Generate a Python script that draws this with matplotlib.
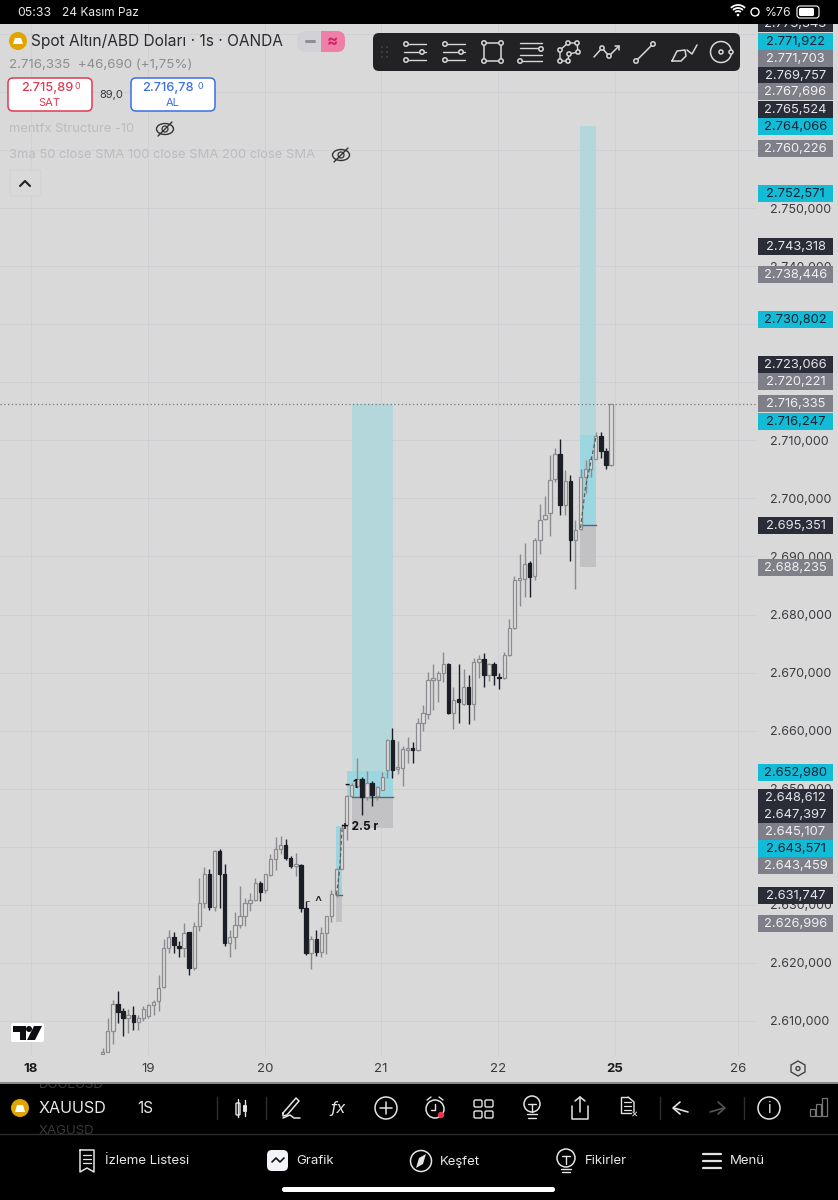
import matplotlib
matplotlib.use("Agg")
import matplotlib.pyplot as plt
from matplotlib.patches import Rectangle, FancyBboxPatch, Circle, Polygon, Ellipse, Arc
from matplotlib.transforms import Bbox

plt.rcParams['font.family'] = ['Inter', 'DejaVu Sans']

# ---------- data ----------
opens = [2604.4,2604.6,2608.3,2613.0,2611.7,2610.6,2611.1,2609.9,2610.5,2610.8,
         2612.8,2613.4,2615.8,2622.5,2624.5,2623.0,2622.6,2625.3,2619.1,2626.4,
         2630.3,2635.3,2629.7,2639.3,2635.3,2623.5,2624.5,2626.5,2628.1,2630.3,
         2630.8,2633.8,2632.5,2635.1,2637.9,2639.6,2640.3,2638.0,2636.7,2636.9,
         2629.5,2621.7,2624.2,2621.9,2625.2,2628.1,2631.8,2636.2,2643.8,2648.8,
         2650.4,2651.7,2648.5,2650.9,2648.7,2649.8,2653.3,2658.4,2653.4,2653.6,
         2656.7,2657.0,2656.7,2661.3,2662.9,2668.7,2668.8,2669.9,2671.5,2663.1,
         2665.4,2664.6,2667.6,2664.6,2671.8,2672.3,2669.5,2671.4,2669.2,2669.1,
         2673.0,2677.7,2686.0,2686.2,2688.9,2686.6,2692.9,2696.4,2697.4,2703.3,
         2707.7,2698.8,2703.0,2692.9,2694.7,2703.7,2705.1,2706.8,2710.8,2708.1,
         2705.7]
closes = [2604.7,2608.3,2613.0,2611.6,2610.5,2611.1,2609.9,2610.5,2612.1,2612.8,
          2613.3,2615.7,2622.5,2624.5,2623.1,2622.6,2625.2,2619.2,2626.4,2630.3,
          2635.3,2629.7,2639.3,2635.3,2623.5,2624.5,2626.5,2628.1,2630.3,2630.8,
          2633.8,2632.3,2635.3,2637.9,2639.6,2640.3,2638.0,2636.7,2637.0,2629.5,
          2621.7,2624.2,2621.9,2625.2,2628.1,2631.8,2636.2,2643.2,2648.7,2650.6,
          2651.7,2648.5,2650.9,2648.9,2650.3,2652.1,2658.4,2653.3,2653.6,2656.8,
          2656.9,2656.7,2661.3,2663.0,2668.8,2668.9,2669.9,2671.4,2663.1,2665.3,
          2664.9,2667.6,2664.6,2671.8,2672.3,2669.5,2671.4,2669.5,2669.0,2673.1,
          2677.7,2686.0,2686.2,2688.7,2686.5,2692.9,2696.3,2697.1,2703.2,2707.7,
          2698.8,2703.0,2692.9,2694.5,2703.6,2705.0,2706.7,2710.7,2708.1,2705.7,
          2716.2]
highs = [2605.3,2610.5,2613.6,2615.2,2612.2,2612.1,2612.6,2611.0,2612.5,2613.0,
         2613.6,2617.9,2624.2,2625.7,2625.4,2623.7,2626.8,2625.4,2627.1,2634.6,
         2636.6,2636.2,2639.4,2639.6,2637.0,2625.7,2628.7,2633.2,2631.1,2632.0,
         2634.7,2634.1,2635.4,2638.7,2641.6,2641.9,2641.3,2638.5,2638.9,2637.0,
         2630.7,2624.7,2625.7,2626.2,2628.1,2632.6,2636.3,2643.9,2649.0,2650.9,
         2655.3,2652.1,2653.0,2651.3,2650.4,2652.8,2658.6,2660.5,2658.2,2657.3,
         2658.9,2658.0,2662.2,2664.5,2670.1,2671.5,2670.2,2673.5,2671.6,2667.6,
         2671.5,2670.6,2669.6,2672.5,2673.1,2673.4,2671.6,2671.8,2669.9,2673.6,
         2679.3,2686.6,2690.5,2692.4,2689.2,2693.2,2699.0,2700.4,2707.4,2708.6,
         2710.2,2704.9,2704.1,2696.3,2705.1,2706.6,2707.3,2711.4,2711.4,2708.7,
         2716.3]
lows = [2604.4,2604.6,2606.0,2609.6,2607.5,2607.9,2608.4,2608.4,2610.0,2610.5,
        2611.1,2611.7,2615.7,2621.7,2621.7,2621.1,2621.1,2617.9,2618.8,2625.5,
        2629.5,2629.1,2628.9,2629.4,2623.0,2621.1,2622.4,2626.0,2626.4,2628.9,
        2630.7,2630.7,2632.0,2634.9,2636.0,2638.7,2637.7,2636.3,2635.0,2628.8,
        2621.4,2618.9,2621.2,2621.1,2621.5,2627.1,2631.4,2636.2,2641.2,2648.7,
        2650.1,2645.4,2648.1,2647.1,2648.1,2649.7,2651.8,2651.8,2652.6,2650.4,
        2654.4,2654.5,2656.5,2660.0,2662.0,2663.5,2665.0,2668.3,2662.9,2660.3,
        2661.3,2664.5,2661.2,2661.8,2669.1,2667.6,2668.5,2667.9,2667.2,2668.9,
        2672.8,2677.5,2681.5,2683.1,2683.1,2686.0,2690.5,2696.3,2693.5,2702.8,
        2697.1,2697.1,2689.3,2684.4,2694.5,2701.0,2703.7,2706.7,2707.0,2705.1,
        2705.6]

price_ticks = [2610, 2620, 2630, 2640, 2650, 2660, 2670, 2680, 2690, 2700,
               2710, 2720, 2730, 2740, 2750, 2760, 2770, 2780]
hidden_price_labels = [2640, 2720, 2730, 2760, 2770, 2780]
day_labels = ['18', '19', '20', '21', '22', '25', '26']
day_bold = ['18', '25']

tag_labels = ['2.773,343', '2.771,922', '2.771,703', '2.769,757', '2.767,696', '2.765,524',
              '2.764,066', '2.760,226', '2.752,571', '2.743,318', '2.738,446', '2.730,802',
              '2.723,066', '2.720,221', '2.716,335', '2.716,247', '2.695,351', '2.688,235',
              '2.652,980', '2.648,612', '2.647,397', '2.645,107', '2.643,571', '2.643,459',
              '2.631,747', '2.626,996']
tag_kinds = ['d', 't', 'g', 'd', 'g', 'd', 't', 'g', 't', 'd', 'g', 't', 'd', 'g', 'g', 't',
             'd', 'g', 't', 'd', 'd', 'g', 't', 'g', 'd', 'g']

# position boxes: (bar start, bar end, target, entry, stop)
box_starts = [45.9, 48.95, 93.9]
box_ends = [47.1, 57.1, 97.1]
box_targets = [2643.57, 2716.3, 2764.07]
box_entries = [2631.75, 2648.61, 2695.35]
box_stops = [2627.0, 2643.2, 2688.24]
box_fills = [2643.57, 2652.98, 2710.9]

# ---------- layout (pixel geometry of the page) ----------
W, H = 838, 1200
BG = '#d9d9d9'
fig = plt.figure(figsize=(W / 100, H / 100), dpi=100, facecolor=BG)
PANE_R, PANE_T, PANE_B = 757, 24, 1055
PX0, PXS = 102.7, 5.083
PP = 5.807
ax = fig.add_axes([0, 1 - PANE_B / H, PANE_R / W, (PANE_B - PANE_T) / H], facecolor=BG)
ax.set_xlim(-PX0 / PXS, (PANE_R - PX0) / PXS)
ax.set_ylim(2610 - (PANE_B - 1021) / PP, 2610 + (1021 - PANE_T) / PP)
for s in ax.spines.values():
    s.set_visible(False)

# grid + axes
day_x = [(p - PX0) / PXS for p in (31, 148, 265, 381, 498, 615, 738)]
ax.set_xticks(day_x)
ax.set_xticklabels(day_labels, fontsize=9.5, color='#3a3a40')
for lab in ax.get_xticklabels():
    if lab.get_text() in day_bold:
        lab.set_fontweight('bold')
        lab.set_color('#1c1c20')
ax.tick_params(axis='x', length=0, pad=6)
ax.yaxis.tick_right()
ax.set_yticks(price_ticks)
ax.set_yticklabels(['' if p in hidden_price_labels else f"2.{p - 2000:03d},000" for p in price_ticks],
                   fontsize=9, color='#3c3c42')
ax.tick_params(axis='y', length=0, pad=9)
ax.grid(True, color='#cfd0d4', lw=0.7, zorder=0)
ax.set_axisbelow(True)

# position boxes
for a, b, tgt, ent, stp, fil in zip(box_starts, box_ends, box_targets, box_entries, box_stops, box_fills):
    ax.add_patch(Rectangle((a, ent), b - a, tgt - ent, fc='#b4d7dc', ec='none', zorder=1))
    ax.add_patch(Rectangle((a, ent), b - a, fil - ent, fc='#9cd6e0', ec='none', zorder=1.1))
    ax.add_patch(Rectangle((a, stp), b - a, ent - stp, fc='#c2c2c5', ec='none', zorder=1))
    ax.plot([a, b], [ent, ent], color='#5b6468', lw=1, zorder=1.2)
ax.add_patch(Rectangle((48.1, 2648.61), 57.1 - 48.1, 2652.98 - 2648.61, fc='#9cd6e0', ec='none', zorder=1.05))

# last price line
ax.axhline(closes[-1] + 0.1, color='#77777c', lw=0.9, ls=(0, (1, 2)), zorder=1.5)

# candles
for i, (o, c, h, l) in enumerate(zip(opens, closes, highs, lows)):
    up = c >= o
    col = '#8c8c90' if up else '#1c1e26'
    ax.plot([i, i], [l, h], color=col, lw=1.0, zorder=3, solid_capstyle='butt')
    ax.add_patch(Rectangle((i - 0.33, min(o, c)), 0.66, max(abs(c - o), 0.3),
                           fc='#dedede' if up else col, ec=col, lw=0.9, zorder=3.2))

# dashed trade paths
ax.plot([94, 95, 97], [2694.9, 2702, 2710.4], color='#446666', lw=0.9, ls=(0, (3, 2)), zorder=3.5)
ax.plot([46, 46.6, 47.1], [2631.8, 2636, 2643], color='#446666', lw=0.9, ls=(0, (3, 2)), zorder=3.5)

# ---------- page overlay in pixel coordinates ----------
ui = fig.add_axes([0, 0, 1, 1], facecolor='none')
ui.set_xlim(0, W)
ui.set_ylim(H, 0)
ui.axis('off')
def T(x, y, s, size=9, color='k', ha='left', va='center', **kw):
    return ui.text(x, y + 1.5, s, fontsize=size, color=color, ha=ha, va=va, **kw)
def L(xs, ys, color='w', lw=1.1, **kw):
    ui.plot(xs, ys, color=color, lw=lw, solid_capstyle='round', **kw)
def RB(x, y, w, h, fc, ec='none', r=3, lw=1, z=2):
    ui.add_patch(FancyBboxPatch((x + r, y + r), w - 2 * r, h - 2 * r,
                                boxstyle=f"round,pad={r}", fc=fc, ec=ec, lw=lw, zorder=z))
def C(x, y, r, ec='w', fc='none', lw=1.1, z=3):
    ui.add_patch(Circle((x, y), r, fc=fc, ec=ec, lw=lw, zorder=z))

# chart annotations
T(341, 825, '+ 2.5 r', 8.5, '#111111', fontweight='bold')
T(345, 784, '- 1', 8.5, '#111111', fontweight='bold')
T(318, 901, '^', 11, '#222222', ha='center')
T(305, 901, '-', 7, '#444444')

# price tags
TAG_Y = [23, 41, 58, 75, 91, 109, 126, 148, 193, 246, 274, 319, 364, 381, 403, 421,
         525, 567, 772, 797, 814, 831, 848, 865, 895, 923]
sty = {'d': ('#2a2d38', '#e6e6ea'), 't': ('#13bcd6', '#112233'), 'g': ('#7e7f88', '#f0f0f2')}
for y, s, k in zip(TAG_Y, tag_labels, tag_kinds):
    fc, tc = sty[k]
    ui.add_patch(Rectangle((758, y - 8.5), 75, 17, fc=fc, ec='none', zorder=2))
    T(795.5, y - 0.5, s, 9.3, tc, ha='center', zorder=2.1)

# top bar
ui.add_patch(Rectangle((0, 0), W, 24, fc='k', ec='none', zorder=4))
T(17, 11, '05:33', 8.8, '#e8e8e8', zorder=5)
T(62, 11, '24 Kasım Paz', 8.6, '#e8e8e8', zorder=5)
T(765, 11, '%76', 8.8, '#e8e8e8', zorder=5)
ui.add_patch(Circle((738, 15), 1.3, fc='w', ec='none', zorder=5))
for r in (4, 7, 10):
    ui.add_patch(Arc((738, 15), 2 * r, 2 * r, angle=0, theta1=225, theta2=315, color='w', lw=1.3, zorder=5))
C(755, 12, 4, lw=1, z=5)
RB(797, 6, 22, 12, 'k', 'w', r=3, lw=0.8, z=5)
RB(799, 8, 15, 8, 'w', r=1.5, z=6)

# legend block
C(18, 41, 9, ec='none', fc='#e2a400')
ui.add_patch(Polygon([[13, 44], [23, 44], [21, 38], [15, 38]], fc='w', ec='none', zorder=4))
T(31, 40, 'Spot Altın/ABD Doları · 1s · OANDA', 11.15, '#2a2a30')
RB(297, 31, 48, 21, '#d2d2d6', r=9)
ui.add_patch(Rectangle((321, 31), 17, 21, fc='#ee80a8', ec='none', zorder=2.2))
RB(330, 31, 15, 21, '#ee80a8', r=8, z=2.1)
L([306, 314], [41, 41], '#8e8e96', 2.2, zorder=3)
T(332, 40, '≈', 12, '#d81e63', ha='center', zorder=3, fontweight='bold')
T(9, 63, '2.716,335  +46,690 (+1,75%)', 9.6, '#8d8d93')
RB(8, 78, 84, 33, 'white', '#e23a52', r=5, lw=1.1)
T(47, 87, '2.715,89', 9.2, '#e23a52', ha='center', zorder=3, fontweight='medium')
T(77, 85, '0', 6.5, '#e23a52', ha='center', zorder=3)
T(49, 102, 'SAT', 8, '#e23a52', ha='center', zorder=3)
T(111, 94, '89,0', 8, '#3a3a40', ha='center')
RB(131, 78, 84, 33, 'white', '#3b6fe6', r=5, lw=1.1)
T(168, 87, '2.716,78', 9.2, '#3b6fe6', ha='center', zorder=3, fontweight='medium')
T(200, 85, '0', 6.5, '#3b6fe6', ha='center', zorder=3)
T(173, 102, 'AL', 8, '#3b6fe6', ha='center', zorder=3)
T(9, 128, 'mentfx Structure -10', 9.3, '#bcbcc1')
T(9, 154, '3ma 50 close SMA 100 close SMA 200 close SMA', 9.4, '#bcbcc1')
for ex, ey in ((165, 129), (341, 155)):
    ui.add_patch(Ellipse((ex, ey), 17, 11, fc='none', ec='#333333', lw=1))
    C(ex, ey, 3, ec='#333333', lw=0.9)
    L([ex - 7, ex + 7], [ey + 7, ey - 7], '#333333', 1)
RB(10, 170, 31, 26, BG, '#d2d2d4', r=2, lw=0.8)
L([20, 25, 30], [186, 181, 186], '#222222', 1.5, zorder=3)

# drawing toolbar
RB(373, 33, 367, 38, '#222224', r=6, lw=0, z=2)
for dx in (382, 387):
    for dy in (47, 52, 57):
        ui.add_patch(Circle((dx, dy), 0.8, fc='#555555', ec='none', zorder=3))
c = '#d8d8d8'
for x0 in (404, 443):
    for i, y in enumerate((44, 52, 60)):
        L([x0, x0 + 22], [y, y], c, 1, zorder=3)
        C(x0 + (2 if i != 1 else 18), y, 2.2, ec=c, fc='#222224')
L([484, 501, 501, 484, 484], [43, 43, 61, 61, 43], c, 1.1, zorder=3)
for px_, py_ in ((484, 43), (501, 43), (484, 61), (501, 61)):
    C(px_, py_, 2.2, ec=c, fc='#222224')
for y in (43, 48, 55, 61):
    L([520, 542], [y, y], c, 1, zorder=3)
C(541, 49, 2.2, ec=c, fc='#222224')
C(520, 61, 2.2, ec=c, fc='#222224')
poly = [(560, 50), (568, 43), (577, 43), (578, 52), (569, 54), (568, 61), (560, 61)]
L([p[0] for p in poly] + [560], [p[1] for p in poly] + [50], c, 1, zorder=3)
for p in poly:
    C(p[0], p[1], 2.1, ec=c, fc='#222224')
L([594, 602, 609, 619], [57, 48, 56, 46], c, 1.1, zorder=3)
C(602, 48, 2.1, ec=c, fc='#222224'); C(609, 56, 2.1, ec=c, fc='#222224')
L([615, 619, 619], [46, 46, 50], c, 1.1, zorder=3)
L([636, 653], [61, 44], c, 1.1, zorder=3)
C(636, 61, 2.2, ec=c, fc='#222224'); C(653, 44, 2.2, ec=c, fc='#222224')
L([672, 677, 685, 686, 681, 672], [61, 51, 50, 56, 61, 61], c, 1.1, zorder=3)
L([687, 692, 697], [50, 54, 45], c, 1.1, zorder=3)
C(721, 52, 10.5, ec=c)
C(721, 52, 2, ec=c)
C(731, 52, 2, ec=c, fc='#222224')

# TradingView logo
RB(11, 1023, 33, 19, 'white', r=2, z=3)
ui.add_patch(Polygon([[13, 1026], [26, 1026], [26, 1040], [20, 1040], [20, 1032], [13, 1032]], fc='#0e0e12', ec='none', zorder=4))
C(29, 1029, 3, ec='none', fc='#0e0e12', z=4)
ui.add_patch(Polygon([[34, 1026], [42, 1026], [35, 1040], [27, 1040]], fc='#0e0e12', ec='none', zorder=4))

# axis settings icon
ui.add_patch(Polygon([[798, 1061], [805, 1065], [805, 1072], [798, 1076], [791, 1072], [791, 1065]], fc='none', ec='#444444', lw=1))
C(798, 1068.5, 2, ec='#444444', lw=1)

# bottom bars
ui.add_patch(Rectangle((0, 1082), W, 118, fc='k', ec='none', zorder=2))
L([0, W], [1082.5, 1082.5], '#8b8b8b', 1.4, zorder=3)
L([0, W], [1134, 1134], '#2c2c2e', 1, zorder=3)
t = T(39, 1084, 'DOGEUSD', 9.5, '#3a3a3c', zorder=2.5)
t.set_clip_box(Bbox([[0, 0], [838, 117]])); t.set_clip_on(True)
t = T(39, 1129, 'XAGUSD', 9.5, '#3a3a3c', zorder=2.5)
t.set_clip_box(Bbox([[0, 66], [838, 117]])); t.set_clip_on(True)
C(20, 1108, 9, ec='none', fc='#e2a400')
ui.add_patch(Polygon([[15, 1112], [25, 1112], [23, 1105], [17, 1105]], fc='w', ec='none', zorder=4))
T(39, 1107, 'XAUUSD', 11.6, '#e8e8e8', zorder=5)
T(137, 1107, '1S', 11, '#e8e8e8', zorder=5)
wc = '#e4e4e4'
for x in (217, 266, 660, 744):
    L([x, x], [1097, 1119], '#2e2e30', 1, zorder=3)
# candle icon
RB(236, 1103, 4, 12, 'none', wc, r=1, lw=1, z=4); L([238, 238], [1099, 1117], wc, 1, zorder=4)
RB(243, 1105, 4, 7, wc, r=1, z=4); L([245, 245], [1100, 1116], wc, 1, zorder=4)
# pencil
L([283, 296, 299, 287, 283, 283], [1113, 1098, 1101, 1115, 1116, 1113], wc, 1.1, zorder=4)
L([283, 290, 294, 300], [1118, 1115, 1118, 1118], wc, 1.1, zorder=4)
T(338, 1107, 'fx', 12, wc, ha='center', zorder=4, style='italic')
C(386, 1108, 11, ec=wc, z=4)
L([386, 386], [1102, 1114], wc, 1.1, zorder=4); L([380, 392], [1108, 1108], wc, 1.1, zorder=4)
C(435, 1109, 9, ec=wc, z=4); L([435, 435, 431], [1104, 1110, 1110], wc, 1, zorder=4)
L([427, 431], [1100, 1097], wc, 1, zorder=4); L([443, 439], [1100, 1097], wc, 1, zorder=4)
C(441, 1115, 3.2, ec='none', fc='#f23645', z=5)
for gx in (474, 485):
    for gy in (1100, 1111):
        RB(gx, gy, 8, 7, 'none', wc, r=1.5, lw=1, z=4)
C(532, 1104, 8, ec=wc, z=4); L([528, 536], [1104, 1104], wc, 1, zorder=4); L([532, 532], [1104, 1112], wc, 1, zorder=4)
L([527, 537], [1114, 1114], wc, 1, zorder=4); L([528, 536], [1118, 1118], wc, 1, zorder=4)
L([572, 572, 588, 588], [1106, 1119, 1119, 1106], wc, 1.1, zorder=4)
L([580, 580], [1097, 1112], wc, 1.1, zorder=4); L([575, 580, 585], [1101, 1097, 1101], wc, 1.1, zorder=4)
L([631, 621, 621, 628], [1113, 1113, 1097, 1097], wc, 1, zorder=4); L([628, 634, 634], [1097, 1102, 1112], wc, 1, zorder=4)
for ry in (1102, 1106, 1110):
    L([624, 631], [ry, ry], wc, 0.9, zorder=4)
T(635, 1113, '×', 8, wc, ha='center', zorder=4)
L([680, 673, 680], [1102, 1108, 1114], wc, 1.2, zorder=4); L([674, 688], [1108, 1112], wc, 1.2, zorder=4)
L([718, 725, 718], [1102, 1108, 1114], '#555555', 1.2, zorder=4); L([724, 710], [1108, 1112], '#555555', 1.2, zorder=4)
C(769, 1108, 11, ec=wc, z=4)
T(769, 1107, 'i', 11, wc, ha='center', zorder=4)
for bx, bh in ((810, 7), (816, 12), (822, 18)):
    ui.add_patch(Rectangle((bx, 1116 - bh), 5, bh, fc='none', ec='#777777', lw=0.9, zorder=4))

# nav bar
T(105, 1160, 'İzleme Listesi', 9.5, '#e8e8e8', zorder=5)
T(296, 1160, 'Grafik', 9.5, '#e8e8e8', zorder=5)
T(440, 1160, 'Keşfet', 9.5, '#e8e8e8', zorder=5)
T(585, 1160, 'Fikirler', 9.5, '#e8e8e8', zorder=5)
T(730, 1160, 'Menü', 9.5, '#e8e8e8', zorder=5)
L([80, 94, 94, 87, 80, 80], [1150, 1150, 1172, 1168, 1172, 1150], wc, 1.1, zorder=4)
for ry in (1155, 1159, 1163):
    L([83, 91], [ry, ry], wc, 0.9, zorder=4)
RB(267, 1150, 21, 21, '#f2f4f8', r=5, z=4)
L([272, 276, 280, 284], [1162, 1158, 1162, 1158], '#111111', 1.2, zorder=5)
C(421, 1161, 10.5, ec=wc, z=4)
ui.add_patch(Polygon([[426, 1154], [423, 1164], [416, 1168], [419, 1158]], fc=wc, ec='none', zorder=5))
C(566, 1158, 9, ec=wc, z=4); L([562, 570], [1156, 1156], wc, 1, zorder=4); L([566, 566], [1156, 1164], wc, 1, zorder=4)
L([561, 571], [1169, 1169], wc, 1, zorder=4); L([562, 570], [1172, 1172], wc, 1, zorder=4)
for ry in (1154, 1161, 1168):
    L([703, 721], [ry, ry], wc, 1.6, zorder=4)
RB(282, 1187, 273, 5, 'white', r=2.4, z=4)

fig.savefig('out.png', dpi=100, facecolor=BG)
